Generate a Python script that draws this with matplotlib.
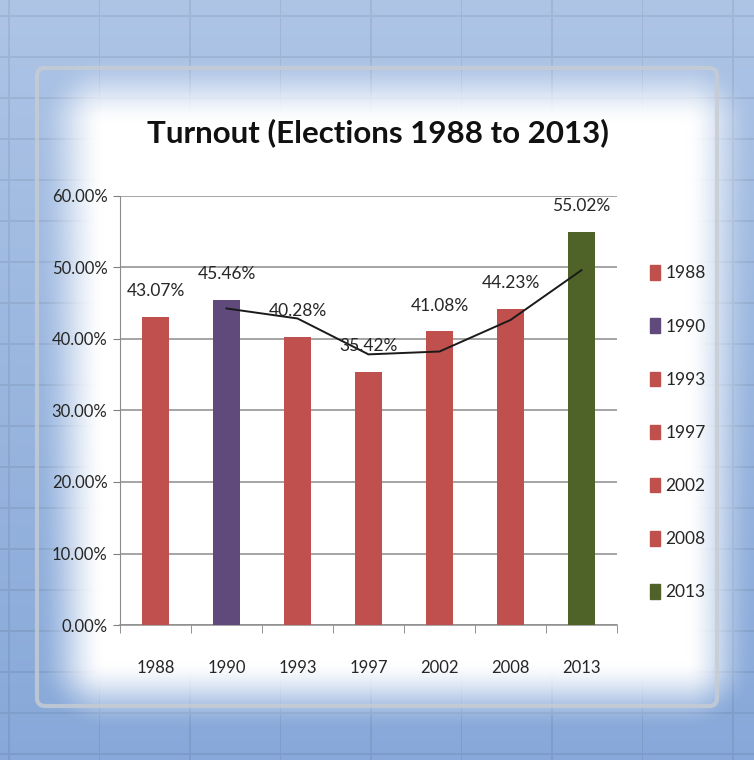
import numpy as np
import matplotlib
matplotlib.use('Agg')
import matplotlib.pyplot as plt
from matplotlib.patches import Patch, FancyBboxPatch
from matplotlib.ticker import FuncFormatter

# Данные графика
years = ['1988', '1990', '1993', '1997', '2002', '2008', '2013']
turnout = [43.07, 45.46, 40.28, 35.42, 41.08, 44.23, 55.02]
bar_colors = ['#C0504D', '#604A7B', '#C0504D', '#C0504D', '#C0504D', '#C0504D', '#4F6228']
# Линия тренда (скользящее среднее)
trend_years = ['1990', '1993', '1997', '2002', '2008', '2013']
trend_vals = [44.27, 42.87, 37.85, 38.25, 42.66, 49.63]

plt.rcParams['font.family'] = ['Lato', 'DejaVu Sans']

W, H = 754, 760
fig = plt.figure(figsize=(W / 100, H / 100), dpi=100)

# Фон: голубая "таблица" с белым свечением в центре
yy, xx = np.mgrid[0:H, 0:W]
base = np.zeros((H, W, 3))
top = np.array([0.68, 0.77, 0.90])
bot = np.array([0.53, 0.66, 0.85])
t = (yy / H)[..., None]
base[:] = top * (1 - t) + bot * t
grid_v = (np.abs(((xx - 8) % 90.5)) < 1.2)
grid_h = (np.abs(((yy - 15) % 41)) < 1.2)
base[grid_v | grid_h] *= 0.93
x0, x1, y0, y1 = 105, 685, 125, 660
dx = np.maximum(np.maximum(x0 - xx, xx - x1), 0)
dy = np.maximum(np.maximum(y0 - yy, yy - y1), 0)
d = np.sqrt(dx ** 2 + dy ** 2)
m = np.clip(1 - d / 70.0, 0, 1)
m = m * m * (3 - 2 * m)
img = base * (1 - m[..., None]) + m[..., None]
bg = fig.add_axes([0, 0, 1, 1])
bg.imshow(img, extent=[0, W, H, 0], aspect='auto', zorder=0)
bg.add_patch(FancyBboxPatch((37, 68), 680, 638, boxstyle='round,pad=0,rounding_size=8',
                            fill=False, ec='#c8ccd2', lw=3, alpha=0.8))
bg.set_xlim(0, W)
bg.set_ylim(H, 0)
bg.axis('off')

# Основной график
ax = fig.add_axes([120 / W, 1 - 625 / H, 497 / W, (625 - 196) / H])
ax.patch.set_alpha(0)
x = np.arange(len(years))
bars = ax.bar(x, turnout, width=0.38, color=bar_colors, zorder=3)

tx = [years.index(y) for y in trend_years]
ax.plot(tx, trend_vals, color='#1a1a1a', lw=1.4, zorder=4)

for xi, v in zip(x, turnout):
    ax.text(xi, v + 3.6, '%.2f%%' % v, ha='center', va='center', fontsize=12.5,
            color='#262626', zorder=5)

ax.set_ylim(0, 60)
ax.set_xlim(-0.5, len(years) - 0.5)
ax.set_yticks(np.arange(0, 61, 10))
ax.yaxis.set_major_formatter(FuncFormatter(lambda v, p: '%.2f%%' % v))
ax.set_xticks(np.arange(-0.5, len(years), 1), minor=True)
ax.set_xticks(x)
ax.set_xticklabels(years)
ax.tick_params(axis='x', which='major', length=0, pad=25, labelsize=12, colors='#262626')
ax.tick_params(axis='x', which='minor', length=6, color='#808080', direction='out')
ax.tick_params(axis='y', length=5, color='#808080', labelsize=12, colors='#262626', pad=4)
ax.grid(axis='y', color='#8c8c8c', lw=1.1, zorder=1)
for s in ['top', 'right']:
    ax.spines[s].set_visible(False)
ax.spines['left'].set_color('#8c8c8c')
ax.spines['bottom'].set_color('#8c8c8c')
ax.spines['bottom'].set_linewidth(1.1)

leg = ax.legend(handles=[Patch(color=c, label=l) for c, l in zip(bar_colors, years)],
                loc='upper left', bbox_to_anchor=(1.035, 0.875), frameon=False,
                handlelength=0.6, handleheight=0.9, handletextpad=0.3,
                labelspacing=2.13, fontsize=12.5)
for txt in leg.get_texts():
    txt.set_color('#262626')

fig.text(378 / W, 1 - 133 / H, 'Turnout (Elections 1988 to 2013)', ha='center', va='center',
         fontsize=22.5, fontweight='bold', color='#111111')

fig.savefig('out.png', dpi=100)
